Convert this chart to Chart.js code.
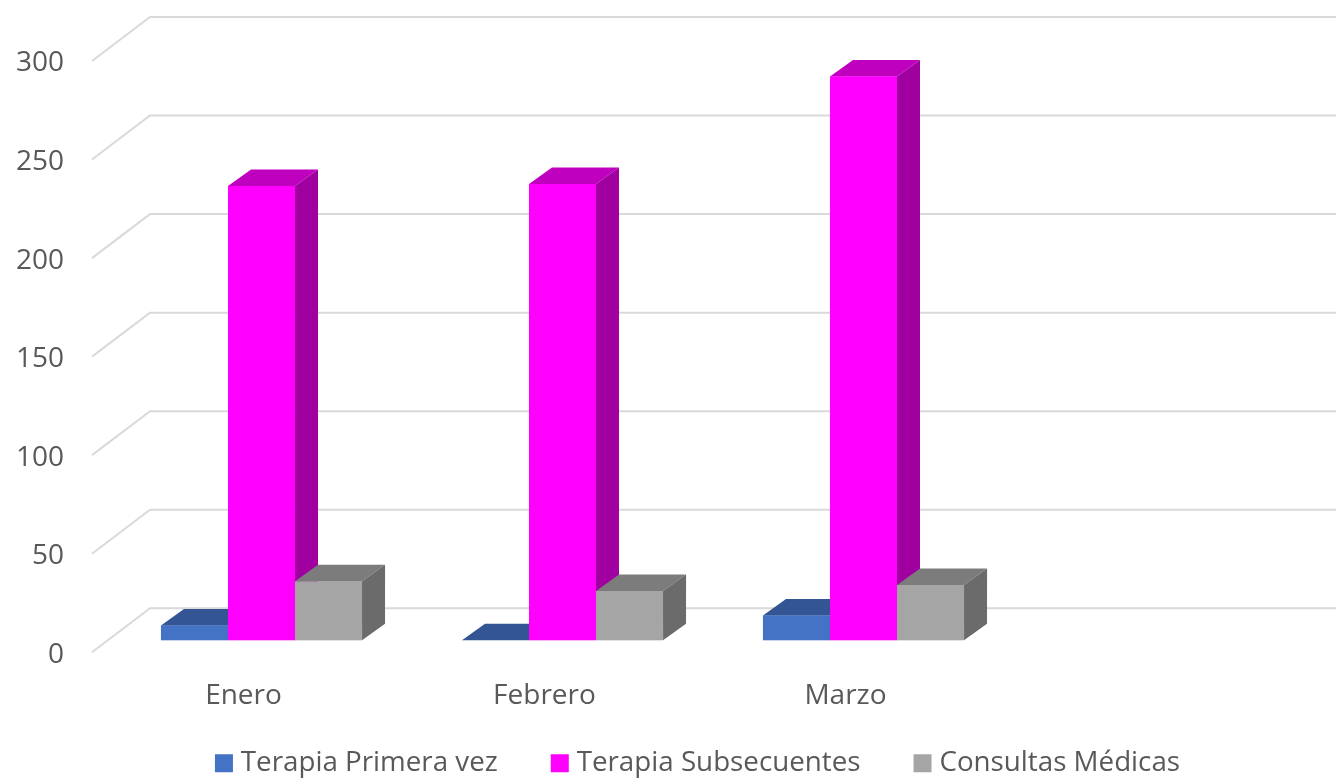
<!DOCTYPE html>
<html>
<head>
<meta charset="utf-8">
<title>Terapias y consultas</title>
<script src="https://cdn.jsdelivr.net/npm/chart.js@4/dist/chart.umd.min.js"></script>
<style>
  html, body { margin: 0; padding: 0; background: #fff; }
  #wrap { width: 1336px; height: 780px; overflow: hidden; }
</style>
</head>
<body>
<div id="wrap"><canvas id="myChart" width="1336" height="780"></canvas></div>
<script>
const categories = ['Enero', 'Febrero', 'Marzo', '']
const primeraVez = [7.5, 0, 12.5]
const subsecuentes = [230.5, 231.5, 286]
const consultas = [30, 25, 28]

const frontColors = ['#4472c4', '#ff00ff', '#a5a5a5']
const topColors = ['#335593', '#bf00bf', '#7c7c7c']
const sideColors = ['#2f5190', '#a000a0', '#6b6b6b']

// depth of the fake 3D, in pixels
const depthX = 23
const depthY = 16.5

function face(ctx, points, color) {
  ctx.fillStyle = color
  ctx.beginPath()
  points.forEach((p, i) => (i ? ctx.lineTo(p[0], p[1]) : ctx.moveTo(p[0], p[1])))
  ctx.closePath()
  ctx.fill()
}

const wall = {
  id: 'wall',
  // legend sits off centre in the reference
  afterLayout(chart) {
    const legend = chart.legend
    legend.left += 43
    legend.right += 43
    legend.top -= 30
    legend.bottom -= 30
  },
  beforeDatasetsDraw(chart) {
    const { ctx, scales } = chart
    ctx.save()
    ctx.strokeStyle = '#d9d9d9'
    ctx.lineWidth = 2
    scales.y.ticks.forEach((t) => {
      const y = scales.y.getPixelForValue(t.value)
      ctx.beginPath()
      ctx.moveTo(92, y + 12)
      ctx.lineTo(150, y - 32)
      ctx.lineTo(chart.width, y - 32)
      ctx.stroke()
    })
    ctx.restore()
  },
  afterDatasetsDraw(chart) {
    const { ctx } = chart
    ctx.save()
    chart.data.datasets.forEach((ds, i) => {
      chart.getDatasetMeta(i).data.forEach((bar) => {
        const l = bar.x - bar.width / 2
        const r = bar.x + bar.width / 2
        const t = bar.y
        const b = bar.base
        face(ctx, [[l, t], [l + depthX, t - depthY], [r + depthX, t - depthY], [r, t]], topColors[i])
        face(ctx, [[r, t], [r + depthX, t - depthY], [r + depthX, b - depthY], [r, b]], sideColors[i])
        bar.draw(ctx)
      })
    })
    ctx.restore()
  },
}

const textColor = '#595959'
const font = { family: '"Open Sans"', size: 28 }
const legendFont = { family: '"Open Sans"', size: 27.75 }

new Chart(document.getElementById('myChart'), {
  type: 'bar',
  data: {
    labels: categories,
    datasets: [
      { label: 'Terapia Primera vez', data: primeraVez, backgroundColor: frontColors[0] },
      { label: 'Terapia Subsecuentes', data: subsecuentes, backgroundColor: frontColors[1] },
      { label: 'Consultas Médicas', data: consultas, backgroundColor: frontColors[2] },
    ],
  },
  plugins: [wall],
  options: {
    responsive: false,
    animation: false,
    devicePixelRatio: 1,
    categoryPercentage: 0.668,
    barPercentage: 1,
    layout: { padding: { left: 0, right: 21, top: 49, bottom: -37 } },
    scales: {
      x: {
        grid: { display: false },
        border: { display: false },
        afterFit(scale) { scale.height = 80 },
        ticks: {
          color: textColor,
          font,
          padding: 31,
          labelOffset: -18,
          autoSkip: false,
          maxRotation: 0,
        },
      },
      y: {
        min: 0,
        max: 300,
        grid: { display: false, drawTicks: false },
        border: { display: false },
        afterFit(scale) {
          scale.width = 111
          scale.paddingTop = 0
          scale.paddingBottom = 0
        },
        ticks: {
          stepSize: 50,
          color: textColor,
          font,
          padding: 47,
          labelOffset: 14.5,
        },
      },
    },
    plugins: {
      tooltip: { enabled: false },
      legend: {
        position: 'bottom',
        labels: {
          color: textColor,
          font: legendFont,
          usePointStyle: true,
          pointStyle: 'rect',
          boxWidth: 6,
          boxHeight: 18,
          padding: 59,
        },
      },
    },
  },
})
</script>
</body>
</html>
